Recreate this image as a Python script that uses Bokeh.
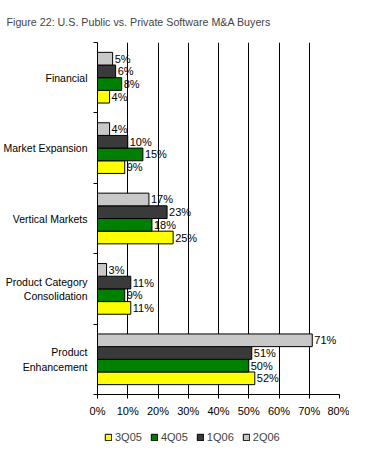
from bokeh.plotting import figure
from bokeh.models import (FixedTicker, PrintfTickFormatter, Legend, LegendItem,
                          ColumnDataSource, Title, Range1d, LabelSet)
from bokeh.layouts import column
from bokeh.core.properties import value
from bokeh.transform import dodge
from bokeh.embed import file_html
from bokeh.resources import INLINE

title = "Figure 22: U.S. Public vs. Private Software M&A Buyers"
categories = ["Financial", "Market Expansion", "Vertical Markets",
              "Product Category\nConsolidation", "Product\nEnhancement"]
series_names = ["3Q05", "4Q05", "1Q06", "2Q06"]
s3Q05 = [4, 9, 25, 11, 52]
s4Q05 = [8, 15, 18, 9, 50]
s1Q06 = [6, 10, 23, 11, 51]
s2Q06 = [5, 4, 17, 3, 71]
x_ticks = [0, 10, 20, 30, 40, 50, 60, 70, 80]

FONT = "Liberation Sans"
n = len(categories)
ypos = [n - 0.5 - i for i in range(n)]

src = ColumnDataSource(dict(
    y=ypos, s3Q05=s3Q05, s4Q05=s4Q05, s1Q06=s1Q06, s2Q06=s2Q06,
    l3Q05=[f"{v}%" for v in s3Q05], l4Q05=[f"{v}%" for v in s4Q05],
    l1Q06=[f"{v}%" for v in s1Q06], l2Q06=[f"{v}%" for v in s2Q06],
))

p = figure(width=349, height=421, output_backend="svg", toolbar_location=None,
           x_range=Range1d(0, 80), y_range=Range1d(0, n),
           min_border_left=88, min_border_right=10, min_border_top=42,
           min_border_bottom=27)
p.outline_line_color = None
p.background_fill_color = "white"
p.border_fill_color = "white"

keys = ["s3Q05", "s4Q05", "s1Q06", "s2Q06"]
labels = ["l3Q05", "l4Q05", "l1Q06", "l2Q06"]
offsets = [-0.27, -0.09, 0.09, 0.27]
colors = ["#ffff00", "#008000", "#3a3a3a", "#c8c8c8"]
for k, lab, off, c in zip(keys, labels, offsets, colors):
    p.hbar(y=dodge("y", off, range=p.y_range), right=k, left=0, height=0.18,
           source=src, fill_color=c, line_color="black", line_width=1)
    ls = LabelSet(x=k, y=dodge("y", off, range=p.y_range), text=lab, source=src,
                  x_offset=2, text_baseline="middle", text_font=value(FONT),
                  text_font_size="11px", text_color="black")
    p.add_layout(ls)

# x axis
p.xaxis.ticker = FixedTicker(ticks=x_ticks)
p.xaxis.formatter = PrintfTickFormatter(format="%d%%")
p.xaxis.major_label_text_font = FONT
p.xaxis.major_label_text_font_size = "11px"
p.xaxis.major_label_text_color = "black"
p.xaxis.axis_line_color = "black"
p.xaxis.major_tick_line_color = "black"
p.xaxis.major_tick_in = 0
p.xaxis.major_tick_out = 4
p.xaxis.minor_tick_line_color = None
p.xaxis.major_label_standoff = 6

# y axis
p.yaxis.ticker = FixedTicker(ticks=ypos, minor_ticks=list(range(n + 1)))
p.yaxis.major_label_overrides = {y: c for y, c in zip(ypos, categories)}
p.yaxis.major_label_text_font = FONT
p.yaxis.major_label_text_font_size = "10.5px"
p.yaxis.major_label_text_color = "black"
p.yaxis.axis_line_color = "black"
p.yaxis.major_tick_line_color = None
p.yaxis.minor_tick_line_color = "black"
p.yaxis.minor_tick_in = 0
p.yaxis.minor_tick_out = 4
p.yaxis.major_label_standoff = 4

p.xgrid.ticker = FixedTicker(ticks=x_ticks[1:])
p.xgrid.grid_line_color = "black"
p.xgrid.grid_line_width = 1
p.ygrid.grid_line_color = None

t = Title(text=title, align="left", offset=-91, text_font=FONT,
          text_font_size="10.7px", text_font_style="normal", standoff=25,
          vertical_align="top")
p.add_layout(t, "above")

# legend strip: same bars, ranged far out of view so only the legend shows
q = figure(width=349, height=24, output_backend="svg", toolbar_location=None,
           x_range=Range1d(1000, 1001), y_range=Range1d(1000, 1001),
           x_axis_type=None, y_axis_type=None,
           min_border_left=0, min_border_right=0, min_border_top=0, min_border_bottom=0)
q.outline_line_color = None
q.xgrid.grid_line_color = None
q.ygrid.grid_line_color = None
leg_renderers = []
for k, off, c in zip(keys, offsets, colors):
    r = q.hbar(y=dodge("y", off, range=q.y_range), right=k, left=0, height=0.18,
               source=src, fill_color=c, line_color="black", line_width=1)
    leg_renderers.append(r)

legend = Legend(items=[LegendItem(label=s, renderers=[r]) for s, r in zip(series_names, leg_renderers)],
                orientation="horizontal", location=(7, 2),
                label_text_font=FONT, label_text_font_size="11px",
                glyph_width=8, glyph_height=8, label_standoff=3, spacing=8,
                padding=0, margin=0, border_line_color=None,
                background_fill_alpha=0)
q.add_layout(legend, "center")

layout = column(p, q, spacing=0)
open("out.html", "w").write(file_html(layout, INLINE))
